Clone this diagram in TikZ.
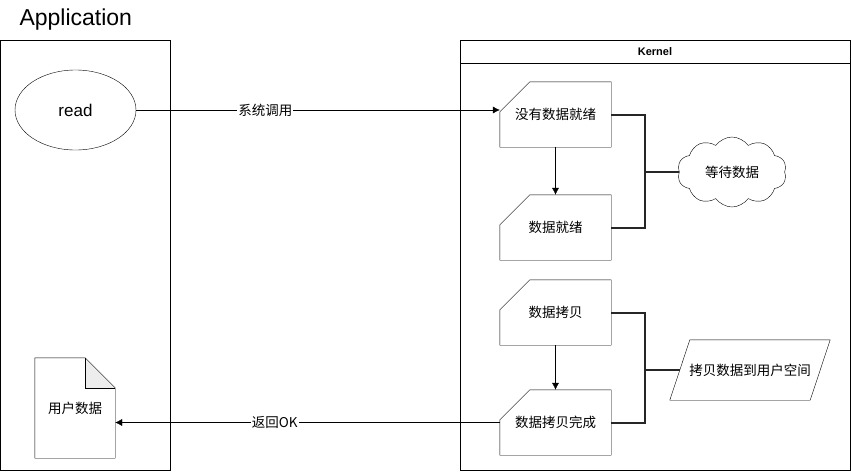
\documentclass[tikz,border=0pt]{standalone}
\usepackage{fontspec}
\setmainfont{Liberation Sans}
\newfontfamily\cjk{Noto Sans CJK SC}
\usetikzlibrary{arrows.meta,shapes.geometric,shapes.symbols}

\tikzset{
    card/.style={minimum width=111pt, minimum height=65pt, inner sep=0pt, font=\cjk\fontsize{13.5}{16}\selectfont},
    link/.style={line width=2pt, black!85},
    flow/.style={-{Latex[length=7pt,width=7pt]}},
    lbl/.style={fill=white, inner sep=1pt, font=\cjk\fontsize{13.5}{16}\selectfont},
}

\begin{document}
\begin{tikzpicture}[x=1pt, y=-1pt]
    \useasboundingbox (0,0) rectangle (851,471);
    % containers
    \node[draw, minimum width=170pt, minimum height=430pt, anchor=north west] (app) at (0,40) {};
    \node[anchor=west, font=\fontsize{23}{27}\selectfont] (apptitle) at (16,20) {Application};
    \node[draw, minimum width=390pt, minimum height=430pt, anchor=north west] (kernel) at (460,40) {};
    \draw (460,63) -- (850,63);
    \node[font=\bfseries\fontsize{11}{13}\selectfont] (ktitle) at (655,51.5) {Kernel};

    % application side
    \node[draw, ellipse, minimum width=121pt, minimum height=80pt, font=\fontsize{17}{20}\selectfont] (read) at (75.5,110) {read};
    \node[minimum width=80pt, minimum height=100pt, inner sep=0pt, font=\cjk\fontsize{13.5}{16}\selectfont] (doc) at (75,408) {用户数据};
    \fill[black!7] ([xshift=-30pt]doc.north east) -- ([xshift=-30pt,yshift=-30pt]doc.north east) -- ([yshift=-30pt]doc.north east) -- cycle;
    \draw (doc.north west) -- ([xshift=-30pt]doc.north east) -- ([yshift=-30pt]doc.north east) -- (doc.south east) -- (doc.south west) -- cycle;
    \draw ([xshift=-30pt]doc.north east) -- ([xshift=-30pt,yshift=-30pt]doc.north east) -- ([yshift=-30pt]doc.north east);

    % kernel side
    \node[card] (nodata) at (555.5,114.5) {没有数据就绪};
    \node[card] (ready) at (555.5,227.5) {数据就绪};
    \node[card] (copy) at (555.5,312.5) {数据拷贝};
    \node[card] (done) at (555.5,422.5) {数据拷贝完成};
    \foreach \c in {nodata,ready,copy,done}
        \draw ([yshift=-30pt]\c.north west) -- ([xshift=30pt]\c.north west) -- (\c.north east) -- (\c.south east) -- (\c.south west) -- cycle;

    \node[draw, cloud, cloud puffs=10, cloud puff arc=110, aspect=1.6, minimum width=109pt, minimum height=70pt, inner sep=0pt, font=\cjk\fontsize{13.5}{16}\selectfont] (wait) at (732,172) {等待数据};
    \node[minimum width=140pt, minimum height=60pt, inner sep=0pt, font=\cjk\fontsize{13.5}{16}\selectfont] (touser) at (750,370) {拷贝数据到用户空间};
    \draw ([xshift=10pt]touser.north west) -- ([xshift=10pt]touser.north east) -- ([xshift=-10pt]touser.south east) -- ([xshift=-10pt]touser.south west) -- cycle;

    % connectors
    \draw[flow] (read.east) -- node[lbl, pos=0.355] {系统调用} (read.east -| nodata.west);
    \draw[flow] (nodata) -- (ready);
    \draw[flow] (copy) -- (done);
    \draw[flow] (done.west) -- node[lbl, pos=0.585] {返回OK} (done.west -| doc.east);
    \draw[link] (nodata.east) -- ++(34,0) |- (wait.west);
    \draw[link] (ready.east) -- ++(34,0) |- (wait.west);
    \draw[link] (copy.east) -- ++(34,0) |- (touser.west);
    \draw[link] (done.east) -- ++(34,0) |- (touser.west);
\end{tikzpicture}
\end{document}
